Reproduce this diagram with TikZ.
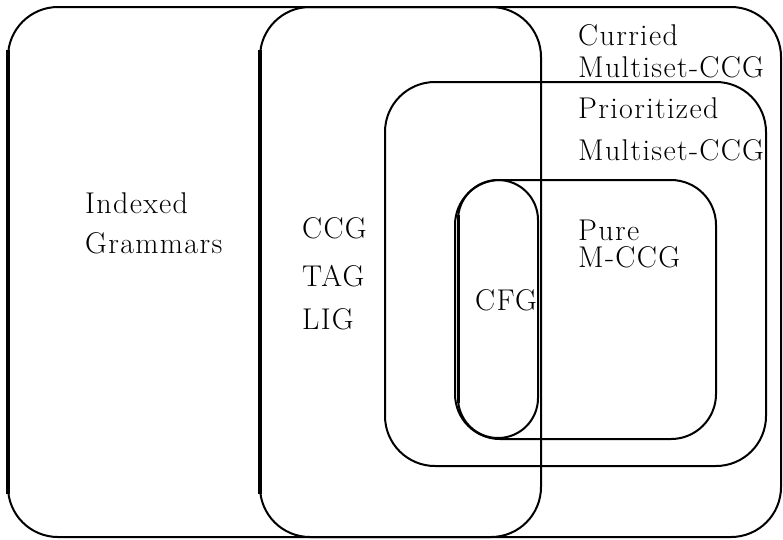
\documentclass[tikz,border=0pt]{standalone}
\usepackage{fontspec}
\newfontfamily\labelfont{lmroman17-regular.otf}[LetterSpace=4.5]
\begin{document}
\begin{tikzpicture}[x=1pt,y=-1pt,
  region/.style={draw=black,line width=2pt,rounded corners=#1},
  region/.default=50pt,
  lbl/.style={anchor=base west,inner sep=0pt,font=\labelfont\fontsize{30}{36}\selectfont}]
\useasboundingbox (0,0) rectangle (783,539);
% nested language classes
\draw[region] (8,7) rectangle (541,537);          % indexed grammars
\draw[region] (260,7) rectangle (781,537);        % CCG / TAG / LIG
\draw[region] (385,82) rectangle (766,466);       % prioritized multiset-CCG
\draw[region=45pt] (455,180) rectangle (716,439); % pure M-CCG
\draw[region=40pt] (458,180) rectangle (538,438); % CFG
% heavier left sides
\draw[line width=3.5pt] (8,50) -- (8,494);
\draw[line width=4.5pt] (260,50) -- (260,494);
\draw[line width=3pt] (458,215) -- (458,403);
% labels
\node[lbl] (idx) at (85,213) {Indexed};
\node[lbl] (gram) at (85,253) {Grammars};
\node[lbl] (ccg) at (302,238) {CCG};
\node[lbl] (tag) at (302,286) {TAG};
\node[lbl] (lig) at (302,329) {LIG};
\node[lbl] (cfg) at (475,310) {CFG};
\node[lbl] (cur) at (578,45) {Curried};
\node[lbl] (mset1) at (578,77) {Multiset-CCG};
\node[lbl] (prio) at (578,118) {Prioritized};
\node[lbl] (mset2) at (578,160) {Multiset-CCG};
\node[lbl] (pure) at (578,240) {Pure};
\node[lbl] (mccg) at (578,267) {M-CCG};
\end{tikzpicture}
\end{document}
